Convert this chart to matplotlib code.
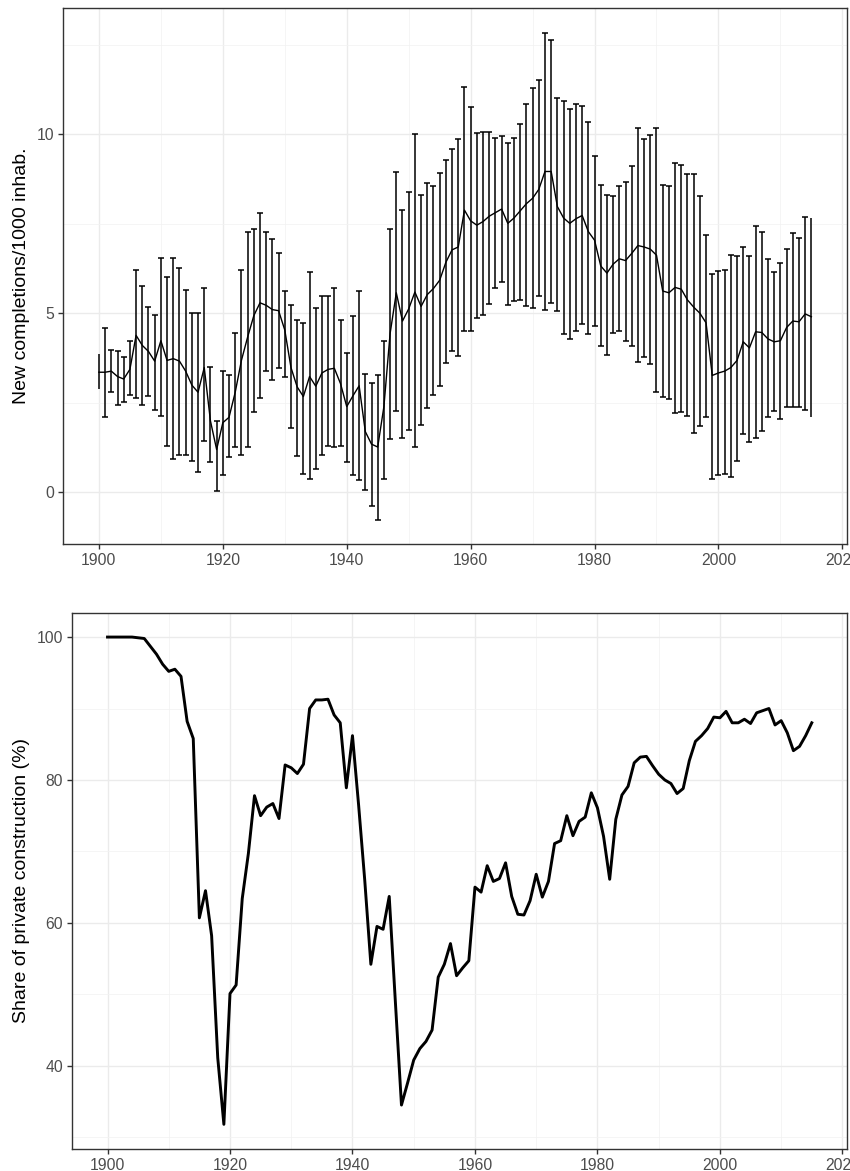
import numpy as np
import matplotlib
matplotlib.use("Agg")
import matplotlib.pyplot as plt
from matplotlib.ticker import MultipleLocator

plt.rcParams['font.family'] = ['Liberation Sans', 'DejaVu Sans']

years = list(range(1900, 2016))

completions_mean = [
    3.35, 3.35, 3.38, 3.23, 3.16, 3.43, 4.38, 4.10, 3.93, 3.66,
    4.23, 3.68, 3.73, 3.66, 3.38, 2.99, 2.79, 3.48, 1.99, 1.19,
    1.94, 2.09, 2.79, 3.68, 4.33, 4.93, 5.29, 5.22, 5.10, 5.07,
    4.53, 3.48, 2.94, 2.67, 3.23, 2.96, 3.33, 3.43, 3.46, 3.03,
    2.39, 2.69, 2.97, 1.69, 1.34, 1.26, 2.39, 4.43, 5.57, 4.78,
    5.12, 5.59, 5.19, 5.52, 5.69, 5.92, 6.42, 6.77, 6.85, 7.88,
    7.58, 7.46, 7.56, 7.71, 7.81, 7.91, 7.51, 7.66, 7.86, 8.06,
    8.21, 8.46, 8.96, 8.96, 7.98, 7.66, 7.51, 7.64, 7.73, 7.28,
    7.04, 6.32, 6.12, 6.37, 6.52, 6.47, 6.67, 6.89, 6.85, 6.79,
    6.62, 5.62, 5.57, 5.72, 5.67, 5.37, 5.17, 5.00, 4.73, 3.26,
    3.33, 3.38, 3.48, 3.68, 4.20, 4.03, 4.48, 4.46, 4.28, 4.20,
    4.23, 4.60, 4.78, 4.76, 4.98, 4.90,
]

completions_upper = [
    3.85, 4.58, 3.96, 3.93, 3.78, 4.23, 6.20, 5.77, 5.17, 4.96,
    6.54, 6.02, 6.54, 6.25, 5.65, 5.00, 5.00, 5.69, 3.51, 1.99,
    3.38, 3.26, 4.45, 6.20, 7.28, 7.36, 7.79, 7.28, 7.08, 6.67,
    5.62, 5.22, 4.80, 4.72, 6.14, 5.14, 5.49, 5.47, 5.69, 4.80,
    3.88, 4.93, 5.62, 3.31, 3.06, 3.28, 4.23, 7.34, 8.94, 7.89,
    8.38, 10.00, 8.31, 8.63, 8.56, 8.91, 9.27, 9.58, 9.88, 11.32,
    10.77, 10.03, 10.05, 10.05, 9.90, 9.95, 9.75, 9.90, 10.28, 10.85,
    11.29, 11.52, 12.84, 12.64, 11.00, 10.92, 10.70, 10.85, 10.80, 10.33,
    9.40, 8.59, 8.29, 8.28, 8.56, 8.66, 9.12, 10.17, 9.87, 9.98,
    10.18, 8.59, 8.56, 9.20, 9.15, 8.88, 8.89, 8.28, 7.19, 6.09,
    6.17, 6.20, 6.62, 6.60, 6.84, 6.59, 7.43, 7.28, 6.52, 6.14,
    6.40, 6.80, 7.23, 7.11, 7.69, 7.66,
]

completions_lower = [
    2.89, 2.11, 2.79, 2.44, 2.52, 2.72, 2.64, 2.44, 2.69, 2.29,
    2.12, 1.29, 0.92, 1.04, 1.04, 0.88, 0.57, 1.44, 0.83, 0.03,
    0.48, 0.98, 1.27, 1.04, 1.27, 2.24, 2.62, 3.38, 3.13, 3.48,
    3.23, 1.79, 1.02, 0.50, 0.37, 0.64, 1.04, 1.29, 1.26, 1.29,
    0.84, 0.48, 0.35, 0.07, -0.40, -0.77, 0.38, 1.49, 2.27, 1.52,
    1.74, 1.26, 1.87, 2.34, 2.71, 2.96, 3.61, 3.95, 3.80, 4.50,
    4.50, 4.86, 4.95, 5.27, 5.69, 5.87, 5.22, 5.35, 5.37, 5.20,
    5.15, 5.49, 5.10, 5.28, 5.05, 4.43, 4.28, 4.51, 4.70, 4.43,
    4.63, 4.08, 3.83, 4.45, 4.50, 4.23, 4.08, 3.63, 3.78, 3.58,
    2.79, 2.67, 2.59, 2.21, 2.24, 2.14, 1.64, 1.86, 2.11, 0.38,
    0.48, 0.50, 0.42, 0.87, 1.61, 1.39, 1.52, 1.72, 2.09, 2.27,
    2.04, 2.37, 2.39, 2.39, 2.29, 2.09,
]

private_share = [
    100.0, 100.0, 100.0, 100.0, 100.0, 99.9, 99.8, 98.7, 97.6, 96.2,
    95.2, 95.5, 94.5, 88.2, 85.8, 60.7, 64.5, 58.2, 41.1, 31.8,
    50.1, 51.3, 63.4, 69.7, 77.8, 75.0, 76.2, 76.7, 74.6, 82.1,
    81.7, 80.9, 82.2, 90.0, 91.2, 91.2, 91.3, 89.1, 88.0, 78.9,
    86.2, 76.5, 66.0, 54.2, 59.5, 59.1, 63.7, 49.0, 34.5, 37.6,
    40.8, 42.4, 43.4, 45.0, 52.4, 54.2, 57.1, 52.6, 53.7, 54.7,
    65.0, 64.3, 68.0, 65.8, 66.2, 68.4, 63.7, 61.2, 61.1, 63.1,
    66.8, 63.6, 65.8, 71.1, 71.5, 75.0, 72.2, 74.2, 74.8, 78.2,
    76.1, 72.1, 66.1, 74.5, 77.9, 79.1, 82.4, 83.2, 83.3, 82.0,
    80.8, 80.0, 79.5, 78.1, 78.8, 82.7, 85.4, 86.2, 87.2, 88.8,
    88.7, 89.6, 88.0, 88.0, 88.5, 87.9, 89.4, 89.7, 90.0, 87.7,
    88.3, 86.6, 84.1, 84.7, 86.2, 88.0,
]

top_ylabel = "New completions/1000 inhab."
bottom_ylabel = "Share of private construction (%)"

W, H = 850, 1171
fig = plt.figure(figsize=(W / 100, H / 100), dpi=100)
fig.patch.set_facecolor("white")

def px_axes(left, top, right, bottom):
    return fig.add_axes([left / W, 1 - bottom / H, (right - left) / W, (bottom - top) / H])

ax1 = px_axes(63.3, 8.3, 847, 544)
ax2 = px_axes(72.3, 612.7, 847, 1148.7)

def expand(lo, hi, f=0.05):
    r = hi - lo
    return lo - f * r, hi + f * r

yrs = np.array(years, dtype=float)
mean = np.array(completions_mean)
up = np.array(completions_upper)
lo = np.array(completions_lower)

def style(ax, ymajor, yminor):
    ax.set_facecolor("white")
    ax.xaxis.set_major_locator(MultipleLocator(20))
    ax.xaxis.set_minor_locator(MultipleLocator(10))
    ax.yaxis.set_major_locator(MultipleLocator(ymajor))
    ax.yaxis.set_minor_locator(MultipleLocator(yminor))
    ax.grid(which="major", color="#EBEBEB", linewidth=1.0, zorder=0)
    ax.grid(which="minor", color="#F2F2F2", linewidth=0.55, zorder=0)
    ax.set_axisbelow(True)
    for s in ax.spines.values():
        s.set_color("#333333")
        s.set_linewidth(1.0)
    ax.tick_params(which="major", length=3.6, width=1.0, color="#333333",
                   labelcolor="#4D4D4D", labelsize=11.3, pad=3)
    ax.tick_params(which="minor", length=0)

# Top panel
inner = np.ones(len(years), dtype=bool)
inner[0] = False
inner[-1] = False
ax1.errorbar(yrs[inner], mean[inner], yerr=[mean[inner] - lo[inner], up[inner] - mean[inner]],
             fmt="none", ecolor="black", elinewidth=1.1, capsize=1.9, capthick=1.1, zorder=3)
ax1.errorbar(yrs[~inner], mean[~inner], yerr=[mean[~inner] - lo[~inner], up[~inner] - mean[~inner]],
             fmt="none", ecolor="black", elinewidth=1.1, capsize=0, zorder=3)
ax1.plot(yrs, mean, color="black", linewidth=1.0, zorder=4)
ax1.set_xlim(*expand(min(years), max(years)))
ax1.set_ylim(*expand(lo.min(), up.max()))
style(ax1, 5, 2.5)

# Bottom panel
ax2.plot(yrs, private_share, color="black", linewidth=2.1, zorder=4)
ax2.set_xlim(*expand(min(years), max(years)))
ax2.set_ylim(*expand(min(private_share), max(private_share)))
style(ax2, 20, 10)

fig.text(22 / W, 1 - 276 / H, top_ylabel, rotation=90, ha="center", va="center",
         fontsize=14, color="black")
fig.text(22 / W, 1 - 880.7 / H, bottom_ylabel, rotation=90, ha="center", va="center",
         fontsize=14, color="black")

fig.savefig("out.png", dpi=100, facecolor="white")
